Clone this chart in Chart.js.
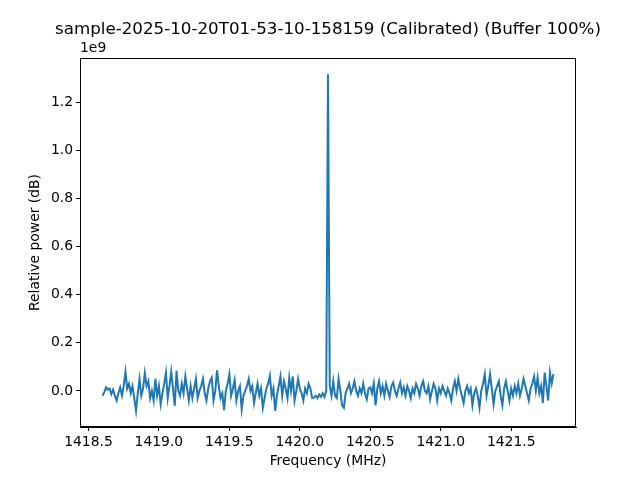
<!DOCTYPE html>
<html lang="en">
<head>
    <meta charset="UTF-8">
    <title>Calibrated spectrum</title>
    <script src="https://cdn.jsdelivr.net/npm/chart.js"></script>
    <style>
        html, body { margin: 0; padding: 0; background: white; }
        #wrap { width: 640px; height: 480px; }
    </style>
</head>
<body>
<div id="wrap"><canvas id="spectrum"></canvas></div>
<script>
    // chart text
    const titleText = 'sample-2025-10-20T01-53-10-158159 (Calibrated) (Buffer 100%)';
    const xLabel = 'Frequency (MHz)';
    const yLabel = 'Relative power (dB)';
    const offsetText = '1e9';

    // frequency grid: 257 bins from 1418.6 to 1421.8 MHz
    const freqStart = 1418.6;
    const freqStep = 0.0125;

    // relative power, in units of 1e7
    const powerE7 = [
        -2, -0.5, 1.5, 0.5, 1, -1.4, 0.5, -2, -4, -1,
        1.4, -2, 2, 8, 1, 3, -1, 2, -3, -8.3,
        -1, 5, -2, 1, 7.4, 2, 4, -3, 0, -4,
        5, -2, 2, -5.5, -1, 3, 7.6, -3, 2, 8,
        1, -6.2, 8.3, 0, -2, 3, -1, 6, 1, -4,
        2, -3, 1, 5, -3, 0, 2, 5, -1, -4,
        1, 4, 5.5, -4, 0, 8.5, 2, -3, -1, -8,
        0, 3, 7, -2, 1, 4.5, -4, 0, 2, -7.6,
        -2, 0, 2, 5, 0, 2, -5, -1, 3, -2,
        1, -7, -3, 1, 3, 6.3, -2, 1, -8.3, -2,
        2, 6, -2, 4, 1, -3, 5.5, 0, 6, -4,
        0, 5, 1, -1, -4, 1, -1, 3, 1, -3,
        -2.8, -2, -3, -1.5, -2.5, -1, -2.5, 0, 131.5, 2,
        -2, 4, -2, -3, 5, 0, -6, -7, -1, 1,
        3, -1, 1, 4, 0, -2, 1, -1, 3, -1,
        -3.5, 1, 1.5, -1, 3, -6, 1, 4, -1, 2,
        -2, 3, 0, -2.5, 2, 3.5, 0, -2, 1, 3.5,
        -1, 1.5, -2, 2, 0, -3, 1, -1, 3, 1,
        -2, 2, 4, 0, -1, 2, -3.5, 0, 3, 1,
        -4, 1, -1, 2, 0, -2, 1, -1, -4, 1,
        4, 0, 5, 1, -2, -5, 0, 2, -1, 1,
        -6, -1, 1, -2, -7, 0, 3, 7, -2, 2,
        7, 1, -5.5, 0, 2, 4, -2, -6, 1, 4,
        0, -4, 1, -2, 2, -1, 3, -2, 1, 5,
        2, -1, -4, 1, 3, 6, 0, 5.5, -1, 2,
        -5, 7.6, 2, -4, 7.6, 3, 7
    ];

    // tick positions
    const xTicks = [1418.5, 1419.0, 1419.5, 1420.0, 1420.5, 1421.0, 1421.5];
    const yTicks = [0, 0.2e9, 0.4e9, 0.6e9, 0.8e9, 1.0e9, 1.2e9];

    const points = powerE7.map((v, i) => ({ x: freqStart + i * freqStep, y: v * 1e7 }));

    const font = 'DejaVu Sans';

    // title, offset text and the full frame like matplotlib
    const framePlugin = {
        id: 'frame',
        afterDraw(chart) {
            const ctx = chart.ctx;
            const a = chart.chartArea;
            ctx.save();
            ctx.strokeStyle = '#000';
            ctx.lineWidth = 1;
            ctx.strokeRect(a.left + 0.5, a.top + 0.5, a.right - a.left - 1, a.bottom - a.top - 1);
            ctx.fillStyle = '#000';
            ctx.font = '16.7px "' + font + '"';
            ctx.textAlign = 'center';
            ctx.textBaseline = 'middle';
            ctx.fillText(titleText, (a.left + a.right) / 2, 30);
            ctx.font = '13.9px "' + font + '"';
            ctx.textAlign = 'left';
            ctx.fillText(offsetText, a.left, 48);
            ctx.restore();
        }
    };

    new Chart(document.getElementById('spectrum'), {
        type: 'line',
        data: {
            datasets: [{
                data: points,
                borderColor: '#1f77b4',
                borderWidth: 2,
                pointRadius: 0,
                tension: 0,
                fill: false
            }]
        },
        options: {
            responsive: true,
            maintainAspectRatio: false,
            animation: false,
            events: [],
            layout: { padding: { top: 58, right: 64, left: 0, bottom: 0 } },
            plugins: {
                legend: { display: false },
                title: { display: false },
                tooltip: { enabled: false }
            },
            scales: {
                x: {
                    type: 'linear',
                    min: 1418.44,
                    max: 1421.96,
                    afterFit: s => { s.height = 53; },
                    afterBuildTicks: s => { s.ticks = xTicks.map(v => ({ value: v })); },
                    grid: { drawOnChartArea: false, drawTicks: true, tickLength: 4, color: '#000' },
                    border: { display: true, color: '#000', width: 1 },
                    ticks: {
                        color: '#000',
                        padding: 3,
                        maxRotation: 0,
                        font: { family: font, size: 13.9 },
                        callback: v => v.toFixed(1)
                    },
                    title: {
                        display: true,
                        text: xLabel,
                        color: '#000',
                        padding: { top: 0, bottom: 10 },
                        font: { family: font, size: 13.9 }
                    }
                },
                y: {
                    type: 'linear',
                    min: -0.15e9,
                    max: 1.383e9,
                    afterFit: s => { s.width = 80; },
                    afterBuildTicks: s => { s.ticks = yTicks.map(v => ({ value: v })); },
                    grid: { drawOnChartArea: false, drawTicks: true, tickLength: 4, color: '#000' },
                    border: { display: true, color: '#000', width: 1 },
                    ticks: {
                        color: '#000',
                        padding: 3,
                        font: { family: font, size: 13.9 },
                        callback: v => (v / 1e9).toFixed(1)
                    },
                    title: {
                        display: true,
                        text: yLabel,
                        color: '#000',
                        padding: { top: 27, bottom: 0 },
                        font: { family: font, size: 13.9 }
                    }
                }
            }
        },
        plugins: [framePlugin]
    });
</script>
</body>
</html>
